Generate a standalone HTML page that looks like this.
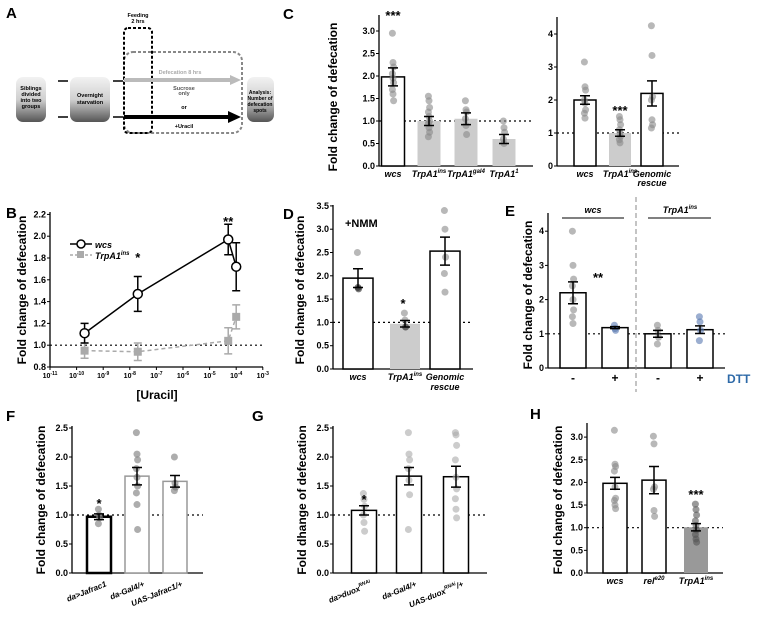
<!DOCTYPE html>
<html><head><meta charset="utf-8"><style>
body{margin:0;background:#fff}
svg{display:block;font-family:"Liberation Sans",Arial,sans-serif}
.t{font-size:9px;font-weight:bold}
.yt{font-size:12px;font-weight:bold}
.pl{font-size:15px;font-weight:bold}
.lab{font-size:9px;font-weight:bold;font-style:italic}
</style></head><body>
<svg id="s" width="759" height="618" viewBox="0 0 759 618" xmlns="http://www.w3.org/2000/svg">
<defs>
<linearGradient id="bg" x1="0" y1="0" x2="0" y2="1"><stop offset="0" stop-color="#f2f2f2"/><stop offset="0.5" stop-color="#d0d0d0"/><stop offset="1" stop-color="#555"/></linearGradient>
</defs>
<g>
<text class="pl" x="6" y="18">A</text>
<rect x="16" y="77" width="30" height="45" rx="7" fill="url(#bg)"/>
<text font-size="5.5" font-weight="bold" text-anchor="middle" x="31" y="90">Siblings<tspan x="31" dy="6">divided</tspan><tspan x="31" dy="6">into two</tspan><tspan x="31" dy="6">groups</tspan></text>
<rect x="70" y="77" width="40" height="45" rx="7" fill="url(#bg)"/>
<text font-size="5.5" font-weight="bold" text-anchor="middle" x="90" y="97">Overnight<tspan x="90" dy="7">starvation</tspan></text>
<rect x="247" y="77" width="27" height="45" rx="7" fill="url(#bg)"/>
<text font-size="5" font-weight="bold" text-anchor="middle" x="260" y="94">Analysis:<tspan x="260" dy="6">Number of</tspan><tspan x="260" dy="6">defecation</tspan><tspan x="260" dy="6">spots</tspan></text>
<path d="M58 81h10M58 117h10M113 81h10M113 117h10" stroke="#000" stroke-width="1.5"/>
<rect x="124" y="52" width="118" height="81" rx="9" fill="none" stroke="#888" stroke-width="2" stroke-dasharray="3,2"/>
<rect x="124" y="28" width="28" height="105" rx="4" fill="none" stroke="#000" stroke-width="2" stroke-dasharray="3,2"/>
<text font-size="5.5" font-weight="bold" text-anchor="middle" x="138" y="17">Feeding<tspan x="138" dy="6">2 hrs</tspan></text>
<path d="M124 80h108" stroke="#bbb" stroke-width="4"/><polygon points="230,75 241,80 230,85" fill="#bbb"/>
<path d="M124 117h106" stroke="#000" stroke-width="4"/><polygon points="228,111 241,117 228,123" fill="#000"/>
<text font-size="5.5" font-weight="bold" fill="#aaa" text-anchor="middle" x="180" y="74">Defecation 8 hrs</text>
<text font-size="5.5" font-weight="bold" fill="#555" text-anchor="middle" x="184" y="90">Sucrose<tspan x="184" dy="5">only</tspan></text>
<text font-size="5.5" font-weight="bold" text-anchor="middle" x="184" y="109">or</text>
<text font-size="5.5" font-weight="bold" text-anchor="middle" x="184" y="128">+Uracil</text>
</g>
<g id="root"></g>
</svg>
<script>
// ---------- data ----------
const cLeftCats=["wcs","TrpA1","TrpA1","TrpA1"];
const cLeftSup=["","ins","gal4","1"];
const cLeftVals=[1.98,1.0,1.05,0.6];
const cLeftErr=[0.2,0.1,0.13,0.1];
const cLeftDots=[[2.95,2.3,2.2,2.05,1.95,1.85,1.7,1.6,1.45],[1.55,1.45,1.3,1.2,1.1,1.0,0.95,0.85,0.75,0.65],[1.45,1.25,1.2,1.05,0.9,0.7],[1.0,0.85,0.75,0.6,0.5]];
const cRightCats=["wcs","TrpA1","Genomic"];const cRightSup=["","ins",""];
const cRightVals=[2.0,1.0,2.2];const cRightErr=[0.13,0.1,0.38];
const cRightDots=[[3.15,2.4,2.3,2.0,1.9,1.7,1.6,1.45],[1.5,1.4,1.25,1.1,1.0,0.9,0.8,0.7],[4.25,3.35,2.1,2.0,1.4,1.25,1.15]];
const dCats=["wcs","TrpA1","Genomic"];const dSup=["","ins",""];
const dVals=[1.95,0.97,2.53];const dErr=[0.2,0.07,0.3];
const dDots=[[2.5,1.75,1.72],[1.2,1.05,0.9],[3.4,3.0,2.4,2.05,1.65]];
const eCats=["-","+","-","+"];const eVals=[2.2,1.18,1.0,1.12];const eErr=[0.32,0.03,0.1,0.11];
const eDots=[[4.0,3.0,2.6,2.4,2.0,1.7,1.5,1.3],[1.25,1.15,1.1],[1.25,1.1,0.9,0.7],[1.5,1.35,1.1,0.8]];
const fCats=["da>Jafrac1","da-Gal4/+","UAS-Jafrac1/+"];const fVals=[0.97,1.67,1.58];const fErr=[0.05,0.15,0.1];
const fDots=[[1.1,1.0,0.95,0.85],[2.42,2.05,1.95,1.8,1.65,1.5,1.38,1.18,0.75],[2.0,1.55,1.48,1.42]];
const gCats=["da>duox","da-Gal4/+","UAS-duox"];const gVals=[1.08,1.67,1.66];const gErr=[0.08,0.15,0.18];
const gDots=[[1.37,1.27,1.15,1.0,0.87,0.72],[2.42,2.05,1.95,1.8,1.6,1.35,0.75],[2.42,2.38,2.2,1.95,1.65,1.45,1.28,1.1,0.95]];
const hCats=["wcs","rel","TrpA1"];const hSup=["","e20","ins"];const hVals=[1.98,2.05,1.01];const hErr=[0.13,0.3,0.08];
const hDots=[[3.15,2.4,2.35,2.25,1.9,1.65,1.6,1.5,1.42],[3.02,2.85,1.9,1.85,1.38,1.25],[1.52,1.4,1.28,1.15,1.05,0.95,0.85,0.75,0.68]];
const bTicks=[-11,-10,-9,-8,-7,-6,-5,-4,-3];
const bX=[-9.7,-7.7,-4.3,-4.0];
const bWcs=[1.11,1.47,1.97,1.72];const bWcsErr=[0.09,0.16,0.14,0.22];
const bTrp=[0.95,0.94,1.04,1.26];const bTrpErr=[0.07,0.08,0.12,0.11];
const bYTicks=[0.8,1.0,1.2,1.4,1.6,1.8,2.0,2.2];
// ---------- helpers ----------
const NS="http://www.w3.org/2000/svg";const root=document.getElementById('root');
function el(tag,attrs,parent,txt){const e=document.createElementNS(NS,tag);for(const k in attrs)e.setAttribute(k,attrs[k]);if(txt!==undefined)e.textContent=txt;(parent||root).appendChild(e);return e;}
function panel(cfg){
  const g=el('g',{});
  
  
  const y=v=>cfg.y0-(v-cfg.ymin)*cfg.k;
  el('line',{x1:cfg.ax,y1:cfg.ytop,x2:cfg.ax,y2:cfg.y0,stroke:'#000','stroke-width':1.3},g);
  el('line',{x1:cfg.ax,y1:cfg.y0,x2:cfg.axEnd,y2:cfg.y0,stroke:'#000','stroke-width':1.3},g);
  cfg.ticks.forEach(t=>{el('line',{x1:cfg.ax-3,y1:y(t),x2:cfg.ax,y2:y(t),stroke:'#000'},g);
    const tl=el('text',{class:'t',x:cfg.ax-4,y:y(t)+3,'text-anchor':'end'},g,cfg.fmt?t.toFixed(1):String(t));
    });
  if(cfg.title){const tt=el('text',{class:'yt',transform:`translate(${cfg.titleX},${cfg.titleY}) rotate(-90)`,'text-anchor':'middle'},g,cfg.title);
    }
  el('line',{x1:cfg.ax,y1:y(1),x2:cfg.axEnd,y2:y(1),stroke:'#000','stroke-dasharray':'2,3','stroke-width':1.2},g);
  cfg.vals.forEach((v,i)=>{
    const cx=cfg.cx[i],w=cfg.bw;
    const b=el('rect',{x:cx-w/2,y:y(v),width:w,height:cfg.y0-y(v),fill:cfg.fill[i],stroke:cfg.stroke[i],'stroke-width':cfg.sw?cfg.sw[i]:1.5},g);
    
    cfg.dots[i].forEach((d,j)=>{const c=el('circle',{cx:cx+((j%3)-1)*0.6,cy:y(d),r:3.5,fill:cfg.dotCol?cfg.dotCol(i,j):'#888','fill-opacity':0.6},g);
      });
    const e=cfg.err[i];
    el('path',{d:`M${cx} ${y(v+e)}V${y(v-e)}M${cx-5} ${y(v+e)}h10M${cx-5} ${y(v-e)}h10`,stroke:'#000','stroke-width':1.5,fill:'none'},g);
    if(cfg.label){cfg.label(g,i,cx);}
  });
  return {g,y};
}
function catLabel(g,x,yy,main,sup,it){const t=el('text',{class:it===false?'t':'lab','text-anchor':'middle',x:x,y:yy},g);
  
  el('tspan',{},t,main);if(sup){el('tspan',{dy:-4,'font-size':6},t,sup);}return t;}
function star(g,x,yy,s){const t=el('text',{x:x,y:yy,'text-anchor':'middle','font-size':13,'font-weight':'bold'},g,s);
  }
function plabel(t,x,yy){const e=el('text',{class:'pl',x:x,y:yy},root,t);}
// ---------- Panel C ----------
plabel('C',283,19);
let p=panel({name:'panel-c-left',ax:379,axEnd:533,y0:166,ytop:15,ymin:0,k:45,ticks:[0,0.5,1,1.5,2,2.5,3],fmt:1,title:'Fold change of defecation',titleX:337,titleY:97,
  vals:cLeftVals,err:cLeftErr,dots:cLeftDots,cx:[393,429,466,504],bw:23,fill:['#fff','#ccc','#ccc','#ccc'],stroke:['#000','none','none','none'],
  label:(g,i,cx)=>catLabel(g,cx,177,cLeftCats[i],cLeftSup[i])});
star(p.g,393,20,'***');
p=panel({name:'panel-c-right',ax:557,axEnd:679,y0:166,ytop:17,ymin:0,k:33,ticks:[0,1,2,3,4],
  vals:cRightVals,err:cRightErr,dots:cRightDots,cx:[585,620,652],bw:22,fill:['#fff','#ccc','#fff'],stroke:['#000','none','#000'],
  label:(g,i,cx)=>{catLabel(g,cx,177,cRightCats[i],cRightSup[i]);if(i==2)catLabel(g,cx,186,'rescue');}});
star(p.g,620,115,'***');
// ---------- Panel B ----------
plabel('B',6,218);
(function(){
  const g=el('g',{});
  const ax=50,y0=367,k=109,x=e=>ax+(e+11)*26.6,y=v=>y0-(v-0.8)*k;
  el('line',{x1:ax,y1:212,x2:ax,y2:y0,stroke:'#000','stroke-width':1.3},g);
  el('line',{x1:ax,y1:y0,x2:263,y2:y0,stroke:'#000','stroke-width':1.3},g);
  bYTicks.forEach(t=>{el('line',{x1:ax-3,y1:y(t),x2:ax,y2:y(t),stroke:'#000'},g);const tl=el('text',{class:'t',x:ax-4,y:y(t)+3,'text-anchor':'end'},g,t.toFixed(1));
    });
  bTicks.forEach(t=>{el('line',{x1:x(t),y1:y0,x2:x(t),y2:y0+3,stroke:'#000'},g);const tl=el('text',{x:x(t),y:y0+11,'text-anchor':'middle','font-size':7,'font-weight':'bold'},g);
    
    el('tspan',{},tl,'10');el('tspan',{dy:-3,'font-size':5},tl,String(t));});
  const xt=el('text',{x:157,y:399,'text-anchor':'middle','font-size':12,'font-weight':'bold'},g,'[Uracil]');
  const yt=el('text',{class:'yt',transform:'translate(26,290) rotate(-90)','text-anchor':'middle'},g,'Fold change of defecation');
  el('line',{x1:ax,y1:y(1),x2:263,y2:y(1),stroke:'#000','stroke-dasharray':'2,3','stroke-width':1.2},g);
  function series(vals,errs,col,dash,sq,nm){
    const l=el('polyline',{points:vals.map((v,i)=>x(bX[i])+','+y(v)).join(' '),fill:'none',stroke:col,'stroke-width':1.5,'stroke-dasharray':dash},g);
    
    vals.forEach((v,i)=>{const cx=x(bX[i]);el('path',{d:`M${cx} ${y(v+errs[i])}V${y(v-errs[i])}M${cx-4} ${y(v+errs[i])}h8M${cx-4} ${y(v-errs[i])}h8`,stroke:col,'stroke-width':1.5},g);
      const m=sq?el('rect',{x:cx-4,y:y(v)-4,width:8,height:8,fill:col},g):el('circle',{cx:cx,cy:y(v),r:4.5,fill:'#fff',stroke:col,'stroke-width':1.5},g);
      });
  }
  series(bTrp,bTrpErr,'#aaa','4,3',true,'trpa1');
  series(bWcs,bWcsErr,'#000','',false,'wcs');
  star(g,x(bX[1]),262,'*');star(g,x(bX[2]),226,'**');
  const lg=el('g',{},g);
  el('line',{x1:70,y1:244,x2:92,y2:244,stroke:'#000','stroke-width':1.5},lg);el('circle',{cx:81,cy:244,r:4,fill:'#fff',stroke:'#000','stroke-width':1.5},lg);
  el('text',{class:'lab','font-size':10,x:95,y:248},lg,'wcs');
  el('line',{x1:70,y1:255,x2:92,y2:255,stroke:'#aaa','stroke-width':1.5,'stroke-dasharray':'3,2'},lg);el('rect',{x:77,y:251,width:7,height:7,fill:'#aaa'},lg);
  const t=el('text',{class:'lab','font-size':10,x:95,y:259},lg);el('tspan',{},t,'TrpA1');el('tspan',{dy:-4,'font-size':6},t,'ins');
})();
// ---------- Panel D ----------
plabel('D',283,219);
p=panel({name:'panel-d',ax:333,axEnd:473,y0:369,ytop:205,ymin:0,k:46.6,ticks:[0,0.5,1,1.5,2,2.5,3,3.5],fmt:1,title:'Fold change of defecation',titleX:304,titleY:290,
  vals:dVals,err:dErr,dots:dDots,cx:[358,405,445],bw:30,fill:['#fff','#ccc','#fff'],stroke:['#000','none','#000'],
  dotCol:(i,j)=>(i==0&&j>0)||(i==1&&j==2)?'#222':'#888',
  label:(g,i,cx)=>{catLabel(g,cx,380,dCats[i],dSup[i]);if(i==2)catLabel(g,cx,390,'rescue');}});
el('text',{x:345,y:227,'font-size':11,'font-weight':'bold'},p.g,'+NMM');
star(p.g,403,308,'*');
// ---------- Panel E ----------
plabel('E',505,216);
p=panel({name:'panel-e',ax:548,axEnd:725,y0:368,ytop:213,ymin:0,k:34.2,ticks:[0,1,2,3,4],title:'Fold change of defecation',titleX:532,titleY:295,
  vals:eVals,err:eErr,dots:eDots,cx:[573,615,658,700],bw:26,fill:['#fff','#fff','#fff','#fff'],stroke:['#000','#000','#000','#000'],
  dotCol:(i,j)=>i%2?'#5878b0':'#888',
  label:(g,i,cx)=>{const t=el('text',{x:cx,y:382,'text-anchor':'middle','font-size':12,'font-weight':'bold'},g,eCats[i]);}});
star(p.g,598,282,'**');
el('line',{x1:636,y1:197,x2:636,y2:392,stroke:'#888','stroke-dasharray':'5,3'},p.g);
el('line',{x1:562,y1:218,x2:624,y2:218,stroke:'#000'},p.g);el('line',{x1:648,y1:218,x2:711,y2:218,stroke:'#000'},p.g);
catLabel(p.g,593,213,'wcs').setAttribute('font-size','11');
const eh=catLabel(p.g,680,213,'TrpA1','ins');eh.setAttribute('font-size','11');
const dtt=el('text',{x:727,y:383,'font-size':12,'font-weight':'bold',fill:'#2e6aa8'},p.g,'DTT');
// ---------- Panels F, G, H ----------
function rotLabel(g,cx,yy,txt,sup){const t=el('text',{transform:`translate(${cx+8},${yy}) rotate(-22)`,'text-anchor':'end','font-size':8,'font-weight':'bold','font-style':'italic'},g);
  
  el('tspan',{},t,txt);if(sup){el('tspan',{dy:-4,'font-size':5},t,sup);el('tspan',{dy:4},t,sup==='RNAi'&&txt==='UAS-duox'?'/+':'');}}
plabel('F',6,421);
p=panel({name:'panel-f',ax:72,axEnd:203,y0:573,ytop:426,ymin:0,k:58,ticks:[0,0.5,1,1.5,2,2.5],fmt:1,title:'Fold change of defecation',titleX:45,titleY:500,
  vals:fVals,err:fErr,dots:fDots,cx:[99,137,175],bw:24,fill:['#fff','#fff','#fff'],stroke:['#000','#999','#999'],sw:[2.5,1.5,1.5],
  dotCol:(i,j)=>'#777',label:(g,i,cx)=>rotLabel(g,cx,586,fCats[i])});
star(p.g,99,508,'*');
plabel('G',252,421);
p=panel({name:'panel-g',ax:333,axEnd:487,y0:573,ytop:426,ymin:0,k:58,ticks:[0,0.5,1,1.5,2,2.5],fmt:1,title:'Fold dhange of defecation',titleX:306,titleY:500,
  vals:gVals,err:gErr,dots:gDots,cx:[364,409,456],bw:25,fill:['#fff','#fff','#fff'],stroke:['#000','#000','#000'],
  dotCol:(i,j)=>'#aaa',label:(g,i,cx)=>rotLabel(g,cx,586,gCats[i],i==1?'':'RNAi')});
star(p.g,364,504,'*');
plabel('H',530,419);
p=panel({name:'panel-h',ax:587,axEnd:723,y0:573,ytop:423,ymin:0,k:45.3,ticks:[0,0.5,1,1.5,2,2.5,3],fmt:1,title:'Fold change of defecation',titleX:562,titleY:500,
  vals:hVals,err:hErr,dots:hDots,cx:[615,654,696],bw:24,fill:['#fff','#fff','#999'],stroke:['#000','#000','none'],
  dotCol:(i,j)=>i==2?'#555':'#888',label:(g,i,cx)=>catLabel(g,cx,584,hCats[i],hSup[i])});
star(p.g,696,499,'***');
</script>
</body></html>
